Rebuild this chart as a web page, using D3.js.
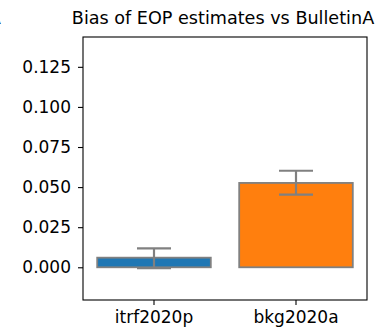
<!DOCTYPE html>
<html>
<head>
<meta charset="utf-8">
<script src="https://cdn.jsdelivr.net/npm/d3@7"></script>
<style>
  body { margin: 0; background: #fff; }
  svg { display: block; }
  text { font-family: "DejaVu Sans", sans-serif; fill: #000; }
</style>
</head>
<body>
<div class="chart"></div>
<script>
var svgWidth = 381;
var svgHeight = 331;

var margin = { top: 37, right: 14, bottom: 31, left: 83 };
var width = svgWidth - margin.left - margin.right;
var height = svgHeight - margin.top - margin.bottom;

// data
var categories = ["itrf2020p", "bkg2020a"];
var means = [0.0060, 0.0526];
var errLow = [-0.0006, 0.0453];
var errHigh = [0.0118, 0.0602];
var colors = ["#1f77b4", "#ff7f0e"];
var yTicks = [0.000, 0.025, 0.050, 0.075, 0.100, 0.125];
var yDomain = [-0.0204, 0.1436];

var svg = d3.select(".chart")
  .append("svg")
  .attr("width", svgWidth)
  .attr("height", svgHeight);

var chartGroup = svg.append("g")
  .attr("transform", `translate(${margin.left}, ${margin.top})`);

var xScale = d3.scaleBand()
  .domain(categories)
  .range([0, width])
  .paddingInner(0.2)
  .paddingOuter(0.1);

var yScale = d3.scaleLinear()
  .domain(yDomain)
  .range([height, 0]);

// bars
chartGroup.selectAll("rect.bar")
  .data(categories)
  .enter()
  .append("rect")
  .attr("class", "bar")
  .attr("x", d => xScale(d))
  .attr("width", xScale.bandwidth())
  .attr("y", (d, i) => yScale(Math.max(0, means[i])))
  .attr("height", (d, i) => Math.abs(yScale(0) - yScale(means[i])))
  .attr("fill", (d, i) => colors[i])
  .attr("stroke", "#808080")
  .attr("stroke-width", 1.8);

// error bars
var capHalf = 17;
var errGroup = chartGroup.selectAll("g.err")
  .data(categories)
  .enter()
  .append("g")
  .attr("class", "err")
  .attr("stroke", "#808080")
  .attr("stroke-width", 2.2);

errGroup.append("line")
  .attr("x1", d => xScale(d) + xScale.bandwidth() / 2)
  .attr("x2", d => xScale(d) + xScale.bandwidth() / 2)
  .attr("y1", (d, i) => yScale(errLow[i]))
  .attr("y2", (d, i) => yScale(errHigh[i]));

errGroup.append("line")
  .attr("x1", d => xScale(d) + xScale.bandwidth() / 2 - capHalf)
  .attr("x2", d => xScale(d) + xScale.bandwidth() / 2 + capHalf)
  .attr("y1", (d, i) => yScale(errLow[i]))
  .attr("y2", (d, i) => yScale(errLow[i]));

errGroup.append("line")
  .attr("x1", d => xScale(d) + xScale.bandwidth() / 2 - capHalf)
  .attr("x2", d => xScale(d) + xScale.bandwidth() / 2 + capHalf)
  .attr("y1", (d, i) => yScale(errHigh[i]))
  .attr("y2", (d, i) => yScale(errHigh[i]));

// axes
var leftAxis = d3.axisLeft(yScale)
  .tickValues(yTicks)
  .tickFormat(d3.format(".3f"))
  .tickSize(5)
  .tickPadding(7);

var bottomAxis = d3.axisBottom(xScale)
  .tickSize(5)
  .tickPadding(6);

var yAxis = chartGroup.append("g").call(leftAxis);
var xAxis = chartGroup.append("g")
  .attr("transform", `translate(0, ${height})`)
  .call(bottomAxis);

[yAxis, xAxis].forEach(function(ax) {
  ax.select(".domain").remove();
  ax.selectAll(".tick line").attr("stroke", "#000").attr("stroke-width", 1.1);
  ax.selectAll(".tick text")
    .style("font-family", "DejaVu Sans")
    .style("font-size", "17px")
    .attr("fill", "#000");
});

// frame
chartGroup.append("rect")
  .attr("x", 0)
  .attr("y", 0)
  .attr("width", width)
  .attr("height", height)
  .attr("fill", "none")
  .attr("stroke", "#000")
  .attr("stroke-width", 1.1);

// title
svg.append("text")
  .attr("x", margin.left + width / 2 - 2)
  .attr("y", 24)
  .attr("text-anchor", "middle")
  .style("font-size", "17.6px")
  .text("Bias of EOP estimates vs BulletinA");

// clipped tail of the neighbouring panel's title
svg.append("text")
  .attr("x", 0.8)
  .attr("y", 24)
  .attr("text-anchor", "end")
  .style("font-size", "17.6px")
  .text("A");
</script>
</body>
</html>
